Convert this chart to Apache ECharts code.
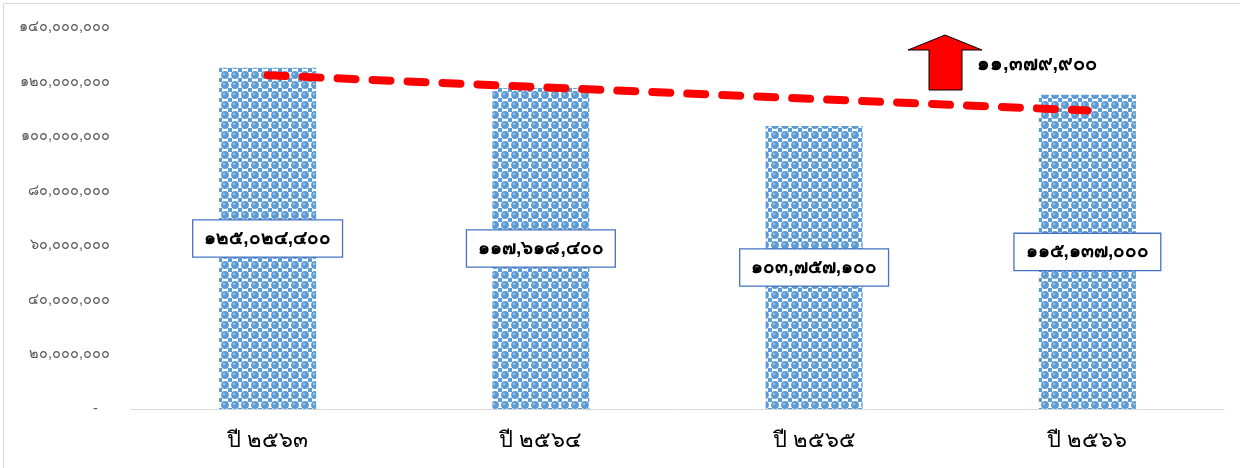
<!DOCTYPE html>
<html><head><meta charset="utf-8">
<script src="https://cdn.jsdelivr.net/npm/echarts@6/dist/echarts.min.js"></script>
<style>html,body{margin:0;padding:0;background:#fff}#c{width:1240px;height:468px}</style>
</head><body><div id="c"></div>
<script>
const categories = ['ปี ๒๕๖๓', 'ปี ๒๕๖๔', 'ปี ๒๕๖๕', 'ปี ๒๕๖๖'];
const budgetValues = [125024400, 117618400, 103757100, 115137000];
const trendValues = [122300000, 117900000, 113600000, 109400000];
const yTicks = { min: 0, max: 140000000, interval: 20000000 };
const annotationText = '๑๑,๓๗๙,๙๐๐';

const thaiDigits = '๐๑๒๓๔๕๖๗๘๙';
function toThai(s) { return String(s).replace(/[0-9]/g, d => thaiDigits[+d]); }
function fmt(v) { return toThai(Math.round(v).toString().replace(/\B(?=(\d{3})+(?!\d))/g, ',')); }

const tile = document.createElement('canvas');
tile.width = 10; tile.height = 10;
const g = tile.getContext('2d');
g.fillStyle = '#ffffff'; g.fillRect(0, 0, 10, 10);
g.fillStyle = '#5b9bd5';
g.beginPath(); g.arc(5, 5, 3.9, 0, Math.PI * 2); g.fill();
g.fillRect(0, 0, 2, 2); g.fillRect(8, 0, 2, 2); g.fillRect(0, 8, 2, 2); g.fillRect(8, 8, 2, 2);
g.fillStyle = '#9cc3e6';
g.beginPath(); g.arc(4, 4, 1.2, 0, Math.PI * 2); g.fill();

const chart = echarts.init(document.getElementById('c'), null, { renderer: 'canvas' });
chart.setOption({
  animation: false,
  backgroundColor: '#ffffff',
  grid: { left: 131, right: 16, top: 27, bottom: 59 },
  xAxis: {
    type: 'category', data: categories,
    axisLine: { lineStyle: { color: '#d9d9d9', width: 1 } },
    axisTick: { show: false },
    axisLabel: { color: '#000', fontSize: 22, margin: 21 }
  },
  yAxis: {
    type: 'value', min: yTicks.min, max: yTicks.max, interval: yTicks.interval,
    splitLine: { show: false }, axisLine: { show: false }, axisTick: { show: false },
    axisLabel: { color: '#595959', fontSize: 14.5, margin: 21,
      formatter: v => v === 0 ? '-   ' : fmt(v) }
  },
  series: [
    {
      type: 'bar', data: budgetValues, barWidth: 97,
      itemStyle: { color: { image: tile, repeat: 'repeat' } },
      label: {
        show: true, position: 'inside', formatter: p => fmt(p.value),
        color: '#000', fontSize: 19, fontWeight: 'bold',
        backgroundColor: '#fff', borderColor: '#4472c4', borderWidth: 1.3,
        padding: [9, 11, 8, 11]
      },
      z: 2
    },
    {
      type: 'line', data: trendValues, symbol: 'none', z: 5,
      lineStyle: { color: '#ff0000', width: 8, type: [18, 17], cap: 'round' }
    }
  ],
  graphic: [
    { type: 'rect', left: 1, top: 1, shape: { width: 1237, height: 465 },
      style: { fill: 'none', stroke: '#d9d9d9', lineWidth: 1 }, silent: true },
    { type: 'polygon', shape: { points: [[945, 35], [982, 50], [962, 50], [962, 90], [929, 90], [929, 50], [908, 50]] },
      style: { fill: '#ff0000', stroke: '#000', lineWidth: 1 }, z: 10 },
    { type: 'text', left: 977, top: 54,
      style: { text: annotationText, fill: '#000', font: 'bold 20px sans-serif' }, z: 10 }
  ]
});
</script></body></html>
